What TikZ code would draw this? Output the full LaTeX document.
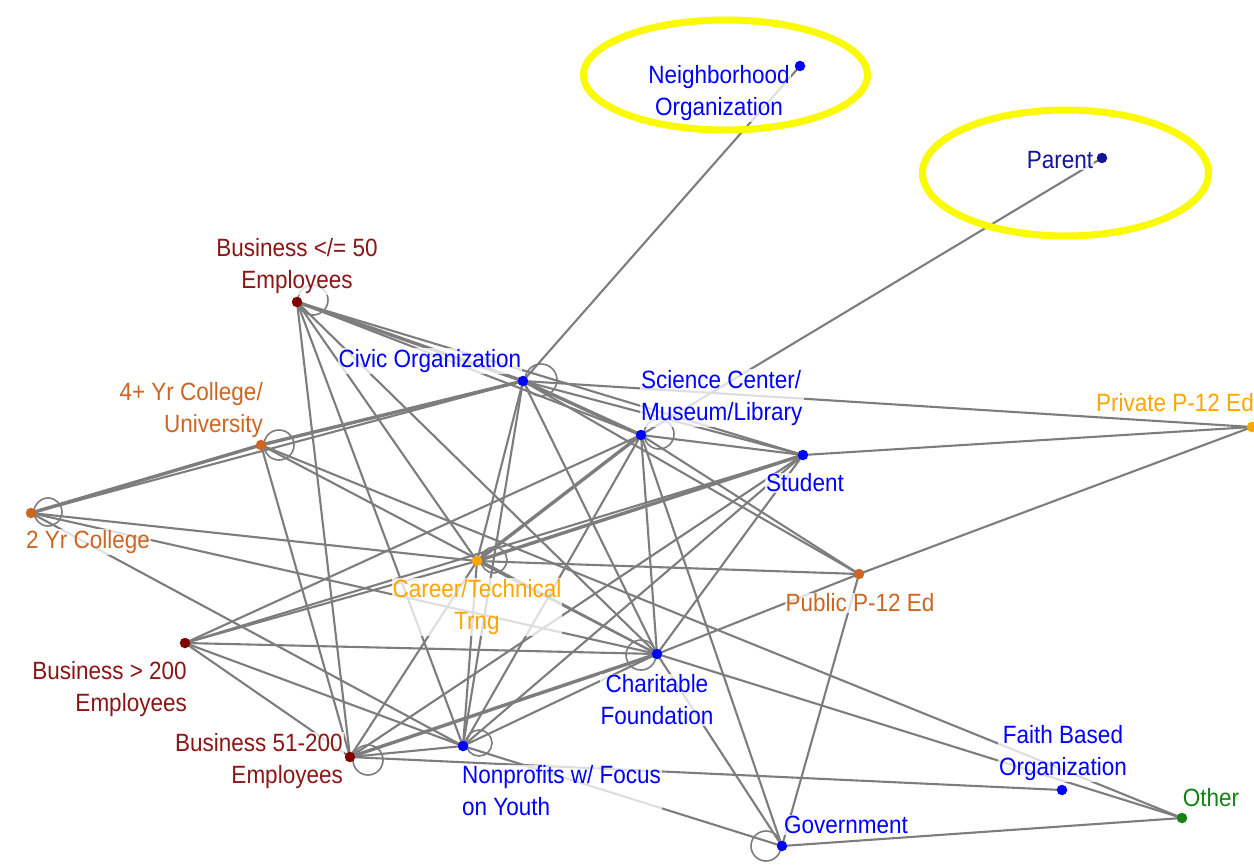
\documentclass[tikz,border=0pt]{standalone}
\usepackage{fontspec}
\newfontfamily\lab{Liberation Sans}[FakeStretch=0.9]
\usetikzlibrary{calc}
\definecolor{bizred}{RGB}{128,0,0}
\definecolor{labred}{RGB}{140,22,22}
\definecolor{edu}{RGB}{204,102,34}
\definecolor{career}{RGB}{255,165,0}
\definecolor{blu}{RGB}{0,0,255}
\definecolor{navyb}{RGB}{20,20,150}
\definecolor{grn}{RGB}{20,130,20}
\definecolor{edgec}{RGB}{125,125,125}
\definecolor{hl}{RGB}{250,250,0}
\begin{document}
\begin{tikzpicture}[x=1pt,y=-1pt,
  dot/.style={circle,fill=#1,inner sep=0pt,minimum size=10.5pt},
  lbl/.style={text=#1,font=\lab\fontsize{25}{32}\selectfont,fill=white,fill opacity=0.75,text opacity=1,inner sep=1pt,align=center},
  lnk/.style={draw=edgec,line width=2.1pt},
  dlnk/.style={draw=edgec,line width=3.4pt},
  selfloop/.style={draw=edgec,line width=1.6pt},
  ring/.style={draw=hl,line width=7pt}]
\useasboundingbox[fill=white] (0,0) rectangle (1254,865);
% positions
\coordinate (no) at (800,66);
\coordinate (pa) at (1102,158);
\coordinate (b50) at (297,302);
\coordinate (co) at (523,381);
\coordinate (u4) at (261,445);
\coordinate (sc) at (641,435);
\coordinate (st) at (803,455);
\coordinate (pr) at (1252,427);
\coordinate (c2) at (31,513);
\coordinate (ct) at (477,561);
\coordinate (pu) at (859,574);
\coordinate (b200) at (185,643);
\coordinate (cf) at (657,654);
\coordinate (b51) at (350,757);
\coordinate (ny) at (463,746);
\coordinate (fb) at (1062,790);
\coordinate (ot) at (1182,818);
\coordinate (gv) at (782,846);
% edges
\foreach \a/\b in {no/co,pa/sc,co/pr,st/pr,pu/pr,b50/sc,b50/st,b50/b51,b50/ny,b50/ct,b50/cf,
  co/st,co/pu,co/c2,co/ct,co/cf,co/ny,u4/b51,u4/cf,u4/ot,c2/ct,c2/cf,c2/ny,
  b200/cf,b200/ny,b200/b51,b200/ct,b200/st,b200/sc,b51/ct,b51/st,b51/ny,b51/fb,
  ny/gv,ny/ct,ny/sc,ny/st,ny/cf,ct/pu,ct/cf,sc/st,sc/cf,sc/gv,sc/pu,st/cf,cf/pu,cf/gv,cf/ot,pu/gv,gv/ot}
  {\draw[lnk] (\a) -- (\b);}
\foreach \a/\b in {b50/co,co/sc,co/u4,u4/c2,b51/cf,ct/sc,ct/st}
  {\draw[dlnk] (\a) -- (\b);}
% self loops
\draw[selfloop] ($(b50)+(16,-2)$) circle[radius=15];
\draw[selfloop] ($(co)+(18,-1)$) circle[radius=16];
\draw[selfloop] ($(u4)+(18,0)$) circle[radius=15];
\draw[selfloop] ($(c2)+(17,-1)$) circle[radius=14];
\draw[selfloop] ($(sc)+(18,-1)$) circle[radius=15];
\draw[selfloop] ($(ct)+(17,-1)$) circle[radius=13];
\draw[selfloop] ($(cf)+(-16,1)$) circle[radius=15];
\draw[selfloop] ($(b51)+(18,3)$) circle[radius=15];
\draw[selfloop] ($(ny)+(16,-3)$) circle[radius=13];
\draw[selfloop] ($(gv)+(-16,0)$) circle[radius=15];
% labels
\node[lbl=blu] (nol) at (719,93) {Neighborhood\\Organization};
\node[lbl=navyb] (pal) at (1060,160) {Parent};
\node[lbl=labred] (b50l) at (297,266) {Business </= 50\\Employees};
\node[lbl=blu] (col) at (430,361) {Civic Organization};
\node[lbl=edu,anchor=east,align=right] (u4l) at (264,410) {4+ Yr College/\\University};
\node[lbl=blu,anchor=west,align=left] (scl) at (640,398) {Science Center/\\Museum/Library};
\node[lbl=blu] (stl) at (805,483) {Student};
\node[lbl=career] (prl) at (1175,403) {Private P-12 Ed};
\node[lbl=edu] (c2l) at (88,542) {2 Yr College};
\node[lbl=career] (ctl) at (477,607) {Career/Technical\\Trng};
\node[lbl=edu] (pul) at (860,603) {Public P-12 Ed};
\node[lbl=labred,anchor=east,align=right] (b200l) at (188,689) {Business > 200\\Employees};
\node[lbl=blu] (cfl) at (657,700) {Charitable\\Foundation};
\node[lbl=labred,anchor=east,align=right] (b51l) at (344,761) {Business 51-200\\Employees};
\node[lbl=blu,anchor=west,align=left] (nyl) at (461,791) {Nonprofits w/ Focus\\on Youth};
\node[lbl=blu] (fbl) at (1063,753) {Faith Based\\Organization};
\node[lbl=grn] (otl) at (1211,798) {Other};
\node[lbl=blu] (gvl) at (846,825) {Government};
% dots
\node[dot=blu] (nod) at (no) {};
\node[dot=navyb] (pad) at (pa) {};
\node[dot=bizred] (b50d) at (b50) {};
\node[dot=blu] (cod) at (co) {};
\node[dot=edu] (u4d) at (u4) {};
\node[dot=blu] (scd) at (sc) {};
\node[dot=blu] (std) at (st) {};
\node[dot=career] (prd) at (pr) {};
\node[dot=edu] (c2d) at (c2) {};
\node[dot=career] (ctd) at (ct) {};
\node[dot=edu] (pud) at (pu) {};
\node[dot=bizred] (b200d) at (b200) {};
\node[dot=blu] (cfd) at (cf) {};
\node[dot=bizred] (b51d) at (b51) {};
\node[dot=blu] (nyd) at (ny) {};
\node[dot=blu] (fbd) at (fb) {};
\node[dot=grn] (otd) at (ot) {};
\node[dot=blu] (gvd) at (gv) {};
% highlight rings
\draw[ring] (725.5,75) ellipse[x radius=142, y radius=55];
\draw[ring] (1065.5,173) ellipse[x radius=143, y radius=63];
\end{tikzpicture}
\end{document}
